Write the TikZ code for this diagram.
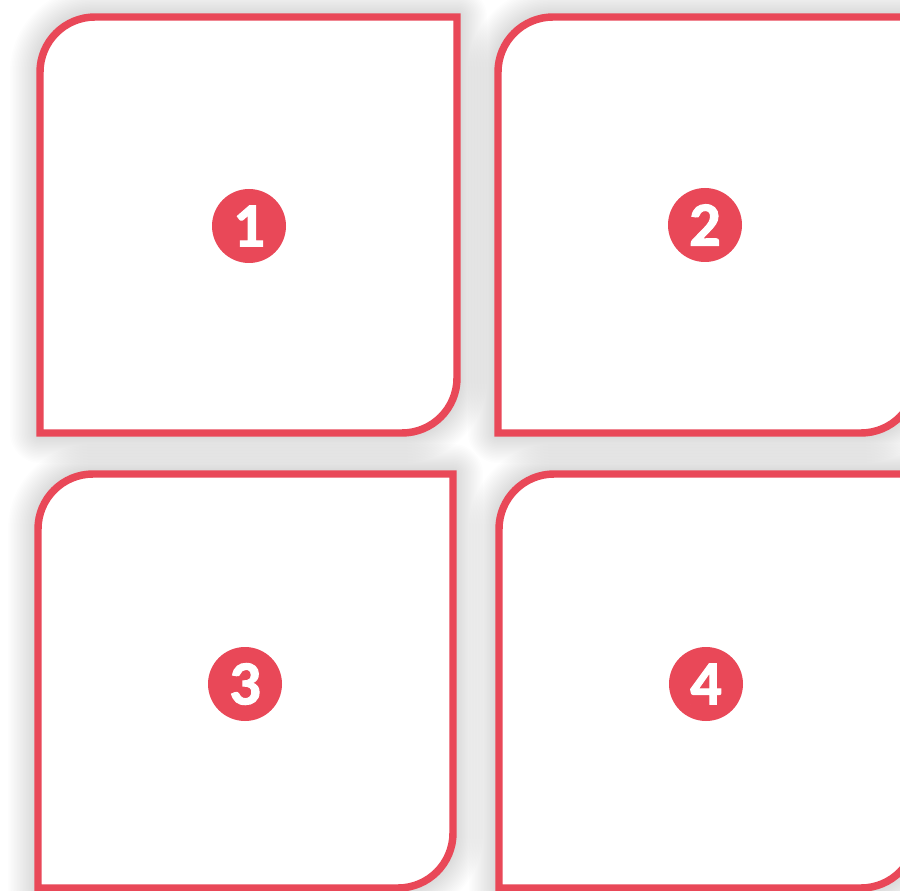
\documentclass[tikz,border=0pt]{standalone}
\usepackage{fontspec}
\setsansfont{Carlito}
\newfontfamily\badgefont{Carlito Bold}[RawFeature={embolden=1.6}]
\definecolor{panelred}{RGB}{233,72,88}

\begin{document}
\begin{tikzpicture}[
    x=0.75pt, y=-0.75pt,
    panel/.style={draw=panelred, fill=white, line width=5.6pt},
    panelshade/.style={draw=black, opacity=0.009, line join=round},
    badge/.style={circle, fill=panelred, text=white, inner sep=0pt,
      minimum size=55.5pt, font=\badgefont\fontsize{47}{47}\selectfont},
  ]
    % page
    \fill[white] (0,0) rectangle (900,891);
    \useasboundingbox (0,0) rectangle (900,891);
    \clip (0,0) rectangle (900,891);

    % soft shadows under the four panels
    \foreach \xa/\ya/\xb/\yb in {40/17/457/433, 498/17/916/433,
                                 38/474/453/888, 499/474/916/888} {
      \foreach \w in {3,6,...,60}
        \draw[panelshade, line width=\w*0.75pt] (\xa,\yb) -- (\xa,\ya+55)
          arc[start angle=180, end angle=270, radius=55] -- (\xb,\ya)
          -- (\xb,\yb-55) arc[start angle=0, end angle=90, radius=55] -- cycle;
    }

    % panels
    \foreach \xa/\ya/\xb/\yb in {40/17/457/433, 498/17/916/433,
                                 38/474/453/888, 499/474/916/888}
      \draw[panel] (\xa,\yb) -- (\xa,\ya+55)
        arc[start angle=180, end angle=270, radius=55] -- (\xb,\ya)
        -- (\xb,\yb-55) arc[start angle=0, end angle=90, radius=55] -- cycle;

    % numbered badges
    \node[badge] (b1) at (249,226) {1};
    \node[badge] (b2) at (705,225) {2};
    \node[badge] (b3) at (245,684) {3};
    \node[badge] (b4) at (706,684) {4};

  \end{tikzpicture}
\end{document}
